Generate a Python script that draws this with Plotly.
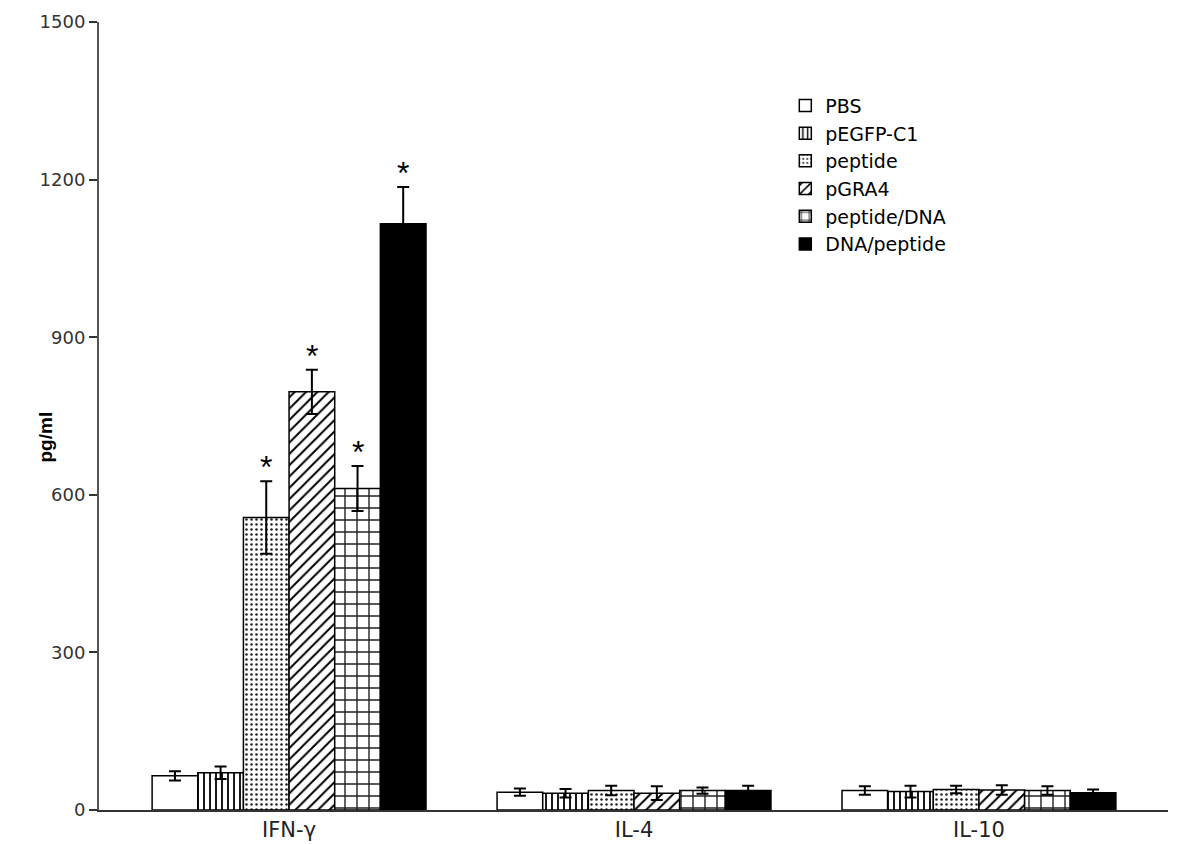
import plotly.graph_objects as go

cytokines = ["IFN-γ", "IL-4", "IL-10"]
groups = ["PBS", "pEGFP-C1", "peptide", "pGRA4", "peptide/DNA", "DNA/peptide"]

pbs = [65, 34, 37]
pbs_err = [9, 7, 8]
pegfp = [71, 32, 35]
pegfp_err = [12, 8, 11]
peptide = [557, 37, 39]
peptide_err = [69, 9, 7]
pgra4 = [796, 32, 38]
pgra4_err = [42, 13, 9]
peptide_dna = [612, 37, 37]
peptide_dna_err = [43, 6, 8]
dna_peptide = [1116, 37, 33]
dna_peptide_err = [70, 9, 6]

significant = [
    [False, False, False],
    [False, False, False],
    [True, False, False],
    [True, False, False],
    [True, False, False],
    [True, False, False],
]

values = [pbs, pegfp, peptide, pgra4, peptide_dna, dna_peptide]
errors = [pbs_err, pegfp_err, peptide_err, pgra4_err, peptide_dna_err, dna_peptide_err]

patterns = [
    dict(shape="", bgcolor="white"),
    dict(shape="|", size=6, solidity=0.3, fgcolor="black", bgcolor="white", fillmode="replace"),
    dict(shape=".", size=5, solidity=0.2, fgcolor="#222", bgcolor="white", fillmode="replace"),
    dict(shape="/", size=8, solidity=0.25, fgcolor="black", bgcolor="white", fillmode="replace"),
    dict(shape="+", size=12, solidity=0.22, fgcolor="#222", bgcolor="white", fillmode="replace"),
    dict(shape=""),
]
fills = ["white", "white", "white", "white", "white", "black"]

FONT = "DejaVu Sans"
BARGAP = 0.206

xpos = list(range(len(cytokines)))
fig = go.Figure()
for i, g in enumerate(groups):
    fig.add_trace(go.Bar(
        name=g, x=xpos, y=values[i],
        marker=dict(color=fills[i], pattern=patterns[i], line=dict(color="black", width=1.5)),
        error_y=dict(type="data", array=errors[i], color="black", thickness=2, width=6),
    ))

n = len(groups)
annotations = []
for i in range(n):
    off = (i - (n - 1) / 2) * (1 - BARGAP) / n
    for j in range(len(cytokines)):
        if significant[i][j]:
            annotations.append(dict(
                x=xpos[j] + off, y=values[i][j] + errors[i][j], xref="x", yref="y",
                text="*", showarrow=False, yanchor="bottom", yshift=-6,
                font=dict(family="Liberation Sans", size=32, color="black"),
            ))
annotations.append(dict(
    x=-0.062, y=0.473, xref="paper", yref="paper", text="<b>pg/ml</b>", textangle=-90,
    showarrow=False, font=dict(family="Liberation Sans", size=19, color="black"),
))

fig.update_layout(
    width=1200, height=844,
    margin=dict(l=91, r=40, t=14, b=42),
    paper_bgcolor="white", plot_bgcolor="white",
    barmode="group", bargap=BARGAP, bargroupgap=0,
    font=dict(family=FONT, color="#222"),
    showlegend=True,
    legend=dict(x=0.642, y=0.918, xanchor="left", yanchor="top",
                font=dict(family=FONT, size=19, color="black"),
                bgcolor="rgba(0,0,0,0)", tracegroupgap=0),
    annotations=annotations,
)
fig.update_xaxes(
    range=[-0.551, 2.548], tickvals=xpos, ticktext=cytokines,
    showline=True, linecolor="#333", linewidth=2, ticks="", showgrid=False, zeroline=False,
    tickfont=dict(family=FONT, size=21, color="#222"), automargin=False,
)
fig.update_yaxes(
    range=[0, 1500], tickvals=[0, 300, 600, 900, 1200, 1500],
    showline=True, linecolor="#555", linewidth=2, ticks="outside", ticklen=8, tickwidth=1.5,
    tickcolor="#333", showgrid=False, zeroline=False,
    tickfont=dict(family=FONT, size=18, color="#333"), automargin=False,
)

fig.write_html("out.html")
